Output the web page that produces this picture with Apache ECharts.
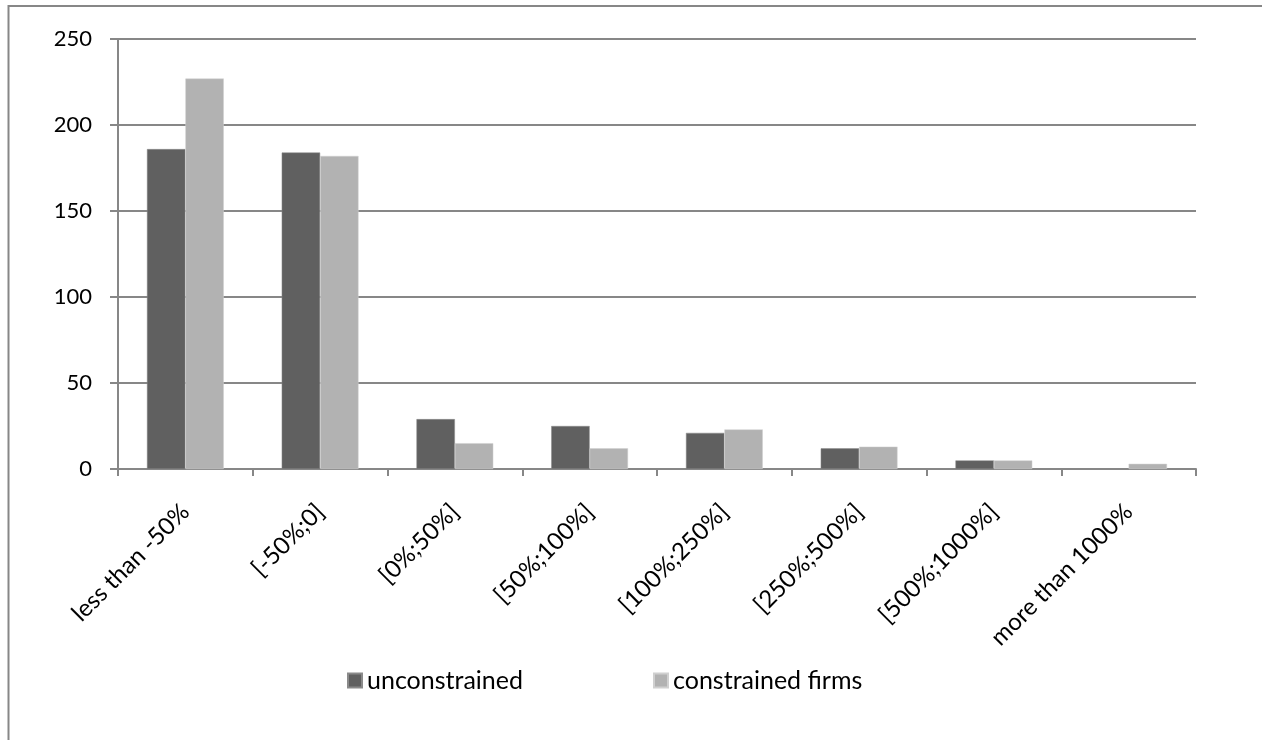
<!DOCTYPE html>
<html>
<head>
<meta charset="utf-8">
<script src="https://cdn.jsdelivr.net/npm/echarts@6/dist/echarts.min.js"></script>
<style>html,body{margin:0;padding:0;background:#fff;}#c{width:1262px;height:740px;}</style>
</head>
<body>
<div id="c"></div>
<script>
const categories = ['less than -50%', '[-50%;0]', '[0%;50%]', '[50%;100%]', '[100%;250%]', '[250%;500%]', '[500%;1000%]', 'more than 1000%'];
const unconstrained = [186, 184, 29, 25, 21, 12, 5, 0];
const constrained = [227, 182, 15, 12, 23, 13, 5, 3];
const seriesNames = ['unconstrained', 'constrained firms'];
const yTicks = { min: 0, max: 250, interval: 50 };

const FONT = 'Lato';
const GRAY = '#878787';
const chart = echarts.init(document.getElementById('c'), null, { renderer: 'canvas' });
chart.setOption({
  animation: false,
  backgroundColor: '#fff',
  textStyle: { fontFamily: FONT },
  graphic: [{
    type: 'rect', silent: true,
    shape: { x: 8.5, y: 6, width: 1300, height: 800 },
    style: { fill: 'none', stroke: GRAY, lineWidth: 2 }
  }],
  grid: { left: 118, right: 66, top: 39, bottom: 271, containLabel: false },
  legend: [
    { data: [seriesNames[0]], left: 347, top: 668, padding: 0, itemWidth: 14, itemHeight: 14, itemGap: 0,
      textStyle: { fontFamily: FONT, fontSize: 25, color: '#000' }, icon: 'rect' },
    { data: [seriesNames[1]], left: 653, top: 668, padding: 0, itemWidth: 14, itemHeight: 14, itemGap: 0,
      textStyle: { fontFamily: FONT, fontSize: 25, color: '#000' }, icon: 'rect' }
  ],
  xAxis: {
    type: 'category',
    data: categories,
    axisLine: { show: true, lineStyle: { color: GRAY, width: 2 } },
    axisTick: { show: true, alignWithLabel: false, length: 7, lineStyle: { color: GRAY, width: 2 } },
    axisLabel: { interval: 0, rotate: 45, margin: 39, fontFamily: FONT, fontSize: 24, color: '#000' },
    splitLine: { show: false }
  },
  yAxis: {
    type: 'value',
    min: yTicks.min, max: yTicks.max, interval: yTicks.interval,
    axisLine: { show: true, lineStyle: { color: GRAY, width: 2 } },
    axisTick: { show: true, length: 8, lineStyle: { color: GRAY, width: 2 } },
    axisLabel: { margin: 26, fontFamily: FONT, fontSize: 22, color: '#000' },
    splitLine: { show: true, lineStyle: { color: GRAY, width: 2 } }
  },
  series: [
    { name: seriesNames[0], type: 'bar', data: unconstrained, barGap: '0%', barCategoryGap: '43%',
      itemStyle: { color: '#606060', borderColor: '#8a8a8a', borderWidth: 0.5 } },
    { name: seriesNames[1], type: 'bar', data: constrained, barGap: '0%', barCategoryGap: '43%',
      itemStyle: { color: '#b2b2b2', borderColor: '#d0d0d0', borderWidth: 0.5 } }
  ]
});
</script>
</body>
</html>
